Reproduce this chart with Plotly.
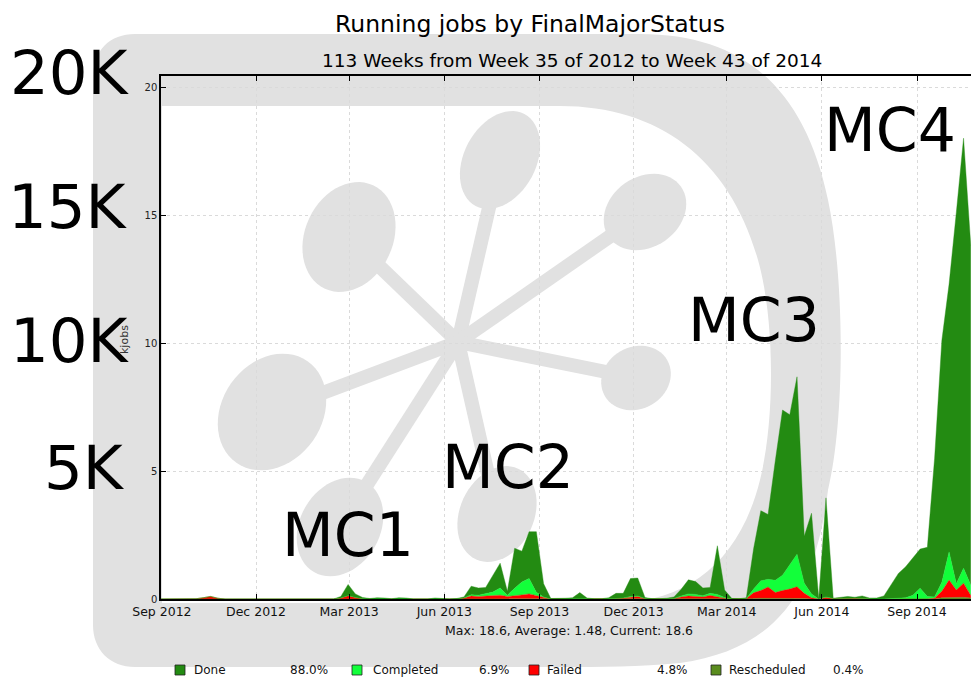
import math
import pandas as pd
import plotly.graph_objects as go

# ---------------- data (kjobs per week) ----------------
weeks = pd.date_range("2012-08-30", periods=113, freq="7D")

series_names = ["Done", "Completed", "Failed", "Rescheduled"]
series_pct = ["88.0%", "6.9%", "4.8%", "0.4%"]

done = [
    0, 0, 0, 0, 0, 0, 0, 0, 0, 0,
    0, 0, 0, 0, 0, 0, 0, 0, 0, 0,
    0, 0, 0, 0, 0, .06, .44, .14, .05, .02,
    .05, .04, .01, .05, .04, 0, 0, 0, .04, .01,
    0, .02, .04, .33, .28, .25, .68, .97, .15, 1.56,
    1.21, 1.83, 2.37, .52, .02, .02, .03, .05, .23, .04,
    .01, .01, .04, .20, .18, .70, .70, .04, .01, .01,
    .02, .06, .26, .55, .50, .30, .23, 1.90, .29, .02,
    .01, .03, 1.57, 2.74, 2.53, 4.67, 6.45, 5.87, 6.93, 1.83,
    3.15, .02, 3.87, .01, .03, .06, .04, .10, .04, .04,
    .12, .54, .98, 1.21, 1.45, 1.53, 1.92, 5.42, 9.45, 10.46,
    14.5, 16.8, 13.26,
]
completed = [
    0, 0, 0, 0, 0, 0, 0, 0, 0, 0,
    0, 0, 0, 0, 0, 0, 0, 0, 0, 0,
    0, 0, 0, 0, 0, 0, 0, 0, 0, 0,
    0, 0, 0, 0, 0, 0, 0, 0, 0, 0,
    0, 0, 0, .05, .05, .08, .15, .28, .05, .30,
    .50, .60, .12, .03, 0, 0, 0, 0, 0, 0,
    0, 0, 0, 0, 0, .02, .02, 0, 0, 0,
    0, 0, .04, .08, .08, .05, .08, .10, .03, 0,
    0, 0, .15, .38, .30, .48, .60, .94, 1.27, .40,
    .15, 0, .02, 0, 0, 0, 0, 0, 0, 0,
    0, 0, .02, .05, .15, .42, .10, .05, .35, 1.10,
    .25, .58, .40,
]
failed = [
    0, 0, 0, 0, 0, .01, .05, .10, .03, 0,
    0, 0, 0, 0, 0, 0, 0, 0, 0, 0,
    0, 0, 0, 0, 0, .04, .13, .06, .01, 0,
    0, 0, 0, 0, 0, 0, 0, 0, 0, 0,
    0, 0, .04, .12, .10, .12, .12, .15, .10, .12,
    .16, .20, .14, .05, 0, 0, 0, 0, .02, 0,
    0, 0, .01, .02, .04, .08, .10, .02, 0, 0,
    .01, .02, .08, .12, .10, .08, .12, .08, .03, 0,
    0, .02, .22, .30, .44, .23, .30, .36, .45, .20,
    .05, 0, .06, .02, .03, .04, .03, .02, 0, 0,
    0, .01, 0, 0, 0, 0, 0, .03, .25, .68,
    .30, .55, .10,
]
rescheduled = [
    0, 0, 0, 0, 0, 0, 0, 0, 0, 0,
    0, 0, 0, 0, 0, 0, 0, 0, 0, 0,
    0, 0, 0, 0, 0, 0, 0, 0, 0, 0,
    0, 0, 0, 0, 0, 0, 0, 0, 0, 0,
    0, 0, 0, 0, 0, 0, 0, 0, 0, 0,
    0, 0, 0, 0, 0, 0, 0, 0, 0, 0,
    0, 0, 0, 0, 0, 0, 0, 0, 0, 0,
    0, 0, 0, 0, 0, 0, .02, 0, 0, 0,
    0, 0, .02, .03, .03, .02, .03, .03, .03, .02,
    0, 0, 0, 0, 0, 0, 0, 0, 0, 0,
    0, 0, 0, 0, 0, 0, 0, 0, .05, .06,
    .05, .07, .04,
]

y_ticks = [0, 5, 10, 15, 20]
big_labels = ["20K", "15K", "10K", "5K"]
mc_labels = ["MC1", "MC2", "MC3", "MC4"]

colors = {"Done": "#238b12", "Completed": "#12ff3a", "Failed": "#ff0000",
          "Rescheduled": "#5a8c1e"}
values = {"Done": done, "Completed": completed, "Failed": failed,
          "Rescheduled": rescheduled}

# ---------------- geometry helpers (pixel -> paper) ----------------
W, H = 971, 677
ML, MT, PW, PH = 161, 76, 810, 523
MB = H - MT - PH


def px(x):
    return (x - ML) / PW


def py(y):
    return (MT + PH - y) / PH


def pt(x, y):
    return f"{px(x):.5f},{py(y):.5f}"


fig = go.Figure()

for name in ["Rescheduled", "Failed", "Completed", "Done"]:
    fig.add_trace(go.Scatter(
        x=weeks, y=values[name], name=name, stackgroup="one", mode="lines",
        line=dict(width=0.4, color=colors[name]), fillcolor=colors[name],
        hoverinfo="skip", showlegend=False))

GRAY = "#e1e1e1"
shapes = []

# "D" band of the logo (outer and inner contours, even-odd fill)
outer = ("M " + pt(93, 78) + " C " + pt(93, 50) + " " + pt(110, 34) + " " + pt(135, 34) +
         " L " + pt(640, 34) +
         " C " + pt(745, 34) + " " + pt(805, 90) + " " + pt(828, 200) +
         " C " + pt(845, 280) + " " + pt(845, 420) + " " + pt(828, 490) +
         " C " + pt(815, 600) + " " + pt(770, 650) + " " + pt(680, 663) +
         " C " + pt(640, 667) + " " + pt(600, 667) + " " + pt(560, 667) +
         " L " + pt(135, 667) +
         " C " + pt(110, 667) + " " + pt(93, 650) + " " + pt(93, 625) + " Z")
inner = (" M " + pt(162, 106) + " L " + pt(560, 106) +
         " C " + pt(660, 106) + " " + pt(730, 160) + " " + pt(758, 260) +
         " C " + pt(775, 320) + " " + pt(775, 420) + " " + pt(760, 480) +
         " C " + pt(740, 560) + " " + pt(690, 600) + " " + pt(620, 603) +
         " L " + pt(162, 603) + " Z")
shapes.append(dict(type="path", xref="paper", yref="paper", path=outer + inner,
                   fillrule="evenodd", fillcolor=GRAY, line=dict(width=0),
                   layer="below"))

# star of the logo
hub = (458, 342)
nodes = [  # cx, cy, a, b, tilt
    (500, 160, 52, 36, 62),
    (645, 212, 44, 35, 35),
    (636, 378, 36, 31, 30),
    (349, 237, 57, 44, 65),
    (272, 412, 62, 50, 55),
    (340, 527, 52, 40, 60),
    (497, 514, 50, 37, 65),
]
for cx, cy, a, b, tilt in nodes:
    shapes.append(dict(type="line", xref="paper", yref="paper",
                       x0=px(hub[0]), y0=py(hub[1]), x1=px(cx), y1=py(cy),
                       line=dict(color=GRAY, width=14), layer="below"))
for cx, cy, a, b, tilt in nodes:
    t = math.radians(tilt)
    pts = []
    for k in range(60):
        p = 2 * math.pi * k / 60
        ex = a * math.cos(p)
        ey = b * math.sin(p)
        x = cx + ex * math.cos(t) - ey * math.sin(t)
        y = cy - (ex * math.sin(t) + ey * math.cos(t))
        pts.append(pt(x, y))
    path = "M " + " L ".join(pts) + " Z"
    shapes.append(dict(type="path", xref="paper", yref="paper", path=path,
                       fillcolor=GRAY, line=dict(width=0), layer="below"))

# legend squares
leg_sq_x = [180, 357, 534, 716]
for name, cx in zip(series_names, leg_sq_x):
    shapes.append(dict(type="rect", xref="paper", yref="paper",
                       x0=px(cx - 5), x1=px(cx + 5), y0=py(675), y1=py(665),
                       fillcolor=colors[name], line=dict(color="#222", width=0.8),
                       layer="above"))

FONT = "DejaVu Sans"
ann = []


def text(x, y, s, size, xanchor="center", yanchor="middle", color="#000", angle=0):
    ann.append(dict(x=px(x), y=py(y), xref="paper", yref="paper", text=s,
                    showarrow=False, xanchor=xanchor, yanchor=yanchor,
                    textangle=angle,
                    font=dict(family=FONT, size=size, color=color)))


text(530, 24, "Running jobs by FinalMajorStatus", 23.5)
text(572, 60, "113 Weeks from Week 35 of 2012 to Week 43 of 2014", 18.5)
text(569, 630, "Max: 18.6, Average: 1.48, Current: 18.6", 12.5, color="#111")
text(124, 340, "kjobs", 11, color="#333", angle=-90)

for s, (x, y) in zip(big_labels, [(132, 72), (130, 206), (132, 340), (127, 467)]):
    text(x, y, s, 61, xanchor="right")
for s, (x, y) in zip(mc_labels, [(348, 535), (508, 467), (754, 320), (890, 130)]):
    text(x, y, s, 60)

leg_txt_x = [192, 371, 545, 727]
leg_pct_x = [330, 512, 690, 866]
for name, tx, pctx, pct in zip(series_names, leg_txt_x, leg_pct_x, series_pct):
    text(tx, 670, name, 12, xanchor="left", color="#111")
    text(pctx, 670, pct, 12, xanchor="right", color="#111")

fig.update_layout(
    width=W, height=H,
    margin=dict(l=ML, r=W - ML - PW, t=MT, b=MB, pad=0),
    paper_bgcolor="white", plot_bgcolor="white",
    shapes=shapes, annotations=ann, showlegend=False,
    font=dict(family=FONT, color="#111"),
    xaxis=dict(
        type="date", range=["2012-08-31 03:07", "2014-10-23 04:33"],
        tick0="2012-09-01", dtick="M3", tickformat="%b %Y",
        ticks="inside", ticklen=5, tickcolor="#000",
        showline=True, linecolor="#000", linewidth=1.5, mirror="ticks",
        showgrid=True, gridcolor="#dadada", griddash="dot", gridwidth=1,
        tickfont=dict(family=FONT, size=12.5, color="#111"),
        zeroline=False, fixedrange=True,
    ),
    yaxis=dict(
        range=[0, 20.43], tickvals=y_ticks,
        ticks="inside", ticklen=5, tickcolor="#000",
        showline=True, linecolor="#000", linewidth=1.5, mirror=False,
        showgrid=True, gridcolor="#dadada", griddash="dot", gridwidth=1,
        tickfont=dict(family=FONT, size=10, color="#222"),
        zeroline=False, fixedrange=True,
    ),
)

fig.write_html(
    "out.html", config={"displayModeBar": False},
    post_script="document.body.style.margin='0';document.body.style.padding='0';"
                "document.body.style.overflow='hidden';",
)
